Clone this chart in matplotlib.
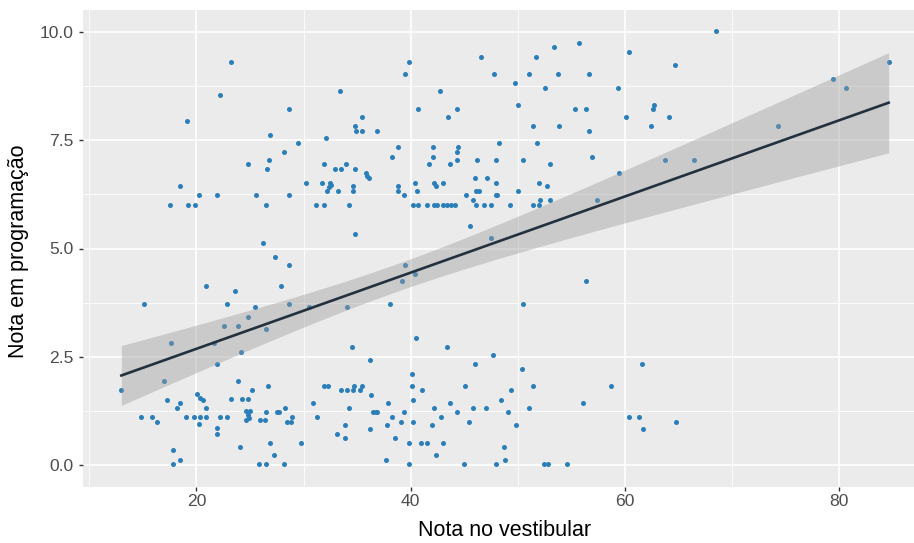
import numpy as np
import matplotlib
matplotlib.use("Agg")
import matplotlib.pyplot as plt
from matplotlib.ticker import FixedLocator

# ---- data ----
vestibular = [
    # upper left
    23.2, 22.2, 33.4, 19.1, 28.6, 35.5, 34.8, 34.9, 35.5, 26.9, 32.1, 29.5, 28.2, 26.8, 24.8, 31.9, 26.6, 32.9, 33.5, 34.0, 34.8,
    18.5, 30.2, 31.7, 32.5, 32.6, 32.4, 32.2, 33.2, 34.6, 34.6,
    20.2, 21.9, 25.6, 28.6,
    17.5, 19.2, 19.9, 26.5, 31.2, 31.9, 34.2,
    34.8, 26.2,
    # upper middle
    36.9, 39.8, 39.5, 42.7, 40.7, 44.3, 43.5, 46.6, 47.8, 49.7, 50.0, 51.0, 51.7, 53.4, 55.7, 53.7, 52.5, 56.6, 60.4, 59.3, 55.3, 56.4, 51.4, 53.8, 56.6, 60.1,
    38.8, 38.3, 42.1, 42.1, 41.7, 44.4, 44.3, 44.3, 43.7, 48.2, 51.8, 46.2, 48.0, 50.5, 53.0, 56.9,
    35.8, 35.9, 36.1,
    38.8, 38.8, 39.4, 40.4, 40.6, 42.2, 42.4, 43.0,
    40.2, 40.7, 41.5, 42.2, 42.5, 43.0, 43.4, 43.8, 44.1, 46.1, 46.8, 47.5, 49.3, 51.4, 52.0,
    45.2, 45.8, 46.0, 47.1, 48.0, 46.1, 46.4, 48.0, 48.1, 50.0, 52.0, 52.7, 52.1, 53.0,
    45.5, 47.5, 57.4, 59.4,
    # upper right
    68.5, 64.7, 62.7, 62.6, 64.1, 62.4, 63.7, 66.4, 74.3, 79.4, 80.6, 84.6,
    # lower left
    27.3, 28.6, 20.9, 23.6, 27.9, 15.1, 22.9, 25.5, 28.6, 30.5, 34.1, 24.8, 22.6, 23.9, 26.5, 17.6, 21.6, 24.2, 21.9, 34.5,
    17.0, 13.0, 23.9, 26.7, 25.2, 17.3, 18.5, 18.2, 20.1, 20.3, 20.6, 20.9, 23.2, 24.3, 24.8,
    14.8, 15.9, 16.3, 19.0, 19.8, 20.3, 20.9, 20.2, 22.2, 22.9, 21.9, 21.9,
    24.6, 25.0, 24.8, 24.9, 24.6, 25.9, 26.4,
    26.5, 27.5, 27.7, 28.3, 28.5, 28.8, 28.9, 30.9, 31.3,
    31.9, 32.3, 33.5, 34.1, 34.6, 34.7, 35.3, 35.5,
    34.2, 33.1, 33.9, 33.9,
    26.9, 29.8, 24.1, 17.8, 18.5, 17.8, 27.2, 25.8, 26.5, 28.2,
    # lower middle
    39.5, 39.2, 40.4, 38.1, 50.5, 56.4, 40.5, 43.4, 36.2, 47.7, 46.0, 50.4, 40.1,
    36.3, 40.1, 41.1, 40.2, 37.9, 45.1, 49.4, 51.4, 48.4, 43.7, 42.2, 45.8, 47.0, 51.0, 56.1, 58.7,
    36.5, 36.8, 36.9, 39.4, 38.3, 39.1, 40.2, 37.8, 42.8, 42.0, 44.3, 45.4, 49.1, 49.8, 36.2, 38.5, 39.8, 41.0, 41.5, 43.0,
    42.4, 48.7, 48.8, 37.7, 39.8, 45.0, 48.0, 52.4, 52.8, 54.6, 60.4,
    # lower right
    61.3, 61.6, 61.7, 64.8,
]
programacao = [
    9.31, 8.53, 8.64, 7.93, 8.21, 8.04, 7.83, 7.72, 7.72, 7.61, 7.54, 7.44, 7.22, 7.04, 6.94, 6.94, 6.83, 6.83, 6.83, 6.94, 6.83,
    6.44, 6.51, 6.51, 6.52, 6.47, 6.41, 6.33, 6.33, 6.44, 6.33,
    6.23, 6.23, 6.23, 6.23,
    6.01, 6.01, 6.01, 6.01, 6.01, 6.01, 6.01,
    5.34, 5.13,
    7.72, 9.31, 9.03, 8.64, 8.21, 8.21, 8.04, 9.42, 9.03, 8.82, 8.32, 9.03, 9.42, 9.64, 9.75, 9.03, 8.71, 9.03, 9.53, 8.71, 8.21, 8.21, 7.83, 7.83, 7.72, 8.04,
    7.33, 7.11, 7.33, 7.11, 6.94, 7.33, 7.22, 7.04, 6.94, 7.44, 7.44, 7.04, 7.04, 7.04, 6.94, 7.11,
    6.74, 6.68, 6.62,
    6.44, 6.33, 6.23, 6.51, 6.33, 6.51, 6.44, 6.51,
    6.01, 6.01, 6.01, 6.01, 6.01, 6.01, 6.01, 6.01, 6.01, 6.01, 6.01, 6.01, 6.01, 6.01, 6.01,
    6.24, 6.12, 6.62, 6.62, 6.51, 6.33, 6.33, 6.23, 6.23, 6.33, 6.51, 6.44, 6.12, 6.12,
    5.52, 5.24, 6.12, 6.73,
    10.02, 9.24, 8.32, 8.21, 8.04, 7.83, 7.04, 7.04, 7.83, 8.92, 8.71, 9.31,
    4.81, 4.63, 4.14, 4.03, 4.14, 3.71, 3.71, 3.64, 3.71, 3.64, 3.64, 3.43, 3.21, 3.21, 3.15, 2.83, 2.82, 2.61, 2.33, 2.72,
    1.94, 1.73, 1.94, 1.83, 1.73, 1.51, 1.44, 1.33, 1.64, 1.56, 1.50, 1.33, 1.52, 1.52, 1.52,
    1.12, 1.12, 1.01, 1.12, 1.12, 1.12, 1.12, 0.95, 1.12, 1.12, 0.85, 0.72,
    1.25, 1.25, 1.15, 1.08, 1.04, 1.04, 1.04,
    1.22, 1.22, 1.22, 1.33, 1.01, 1.01, 1.12, 1.44, 1.12,
    1.83, 1.83, 1.73, 1.73, 1.73, 1.83, 1.73, 1.83,
    1.33, 0.73, 0.94, 0.62,
    0.52, 0.52, 0.42, 0.35, 0.13, 0.02, 0.24, 0.02, 0.02, 0.02,
    4.63, 4.24, 4.42, 3.71, 3.71, 4.24, 2.93, 2.72, 2.43, 2.54, 2.33, 2.22, 2.11,
    1.62, 1.83, 1.73, 1.51, 1.44, 1.83, 1.73, 1.83, 1.51, 1.44, 1.33, 1.33, 1.33, 1.33, 1.44, 1.83,
    1.22, 1.22, 1.22, 1.22, 1.12, 1.01, 1.01, 0.94, 1.12, 0.94, 1.22, 1.01, 1.22, 0.94, 0.83, 0.62, 0.52, 0.52, 0.52, 0.52,
    0.24, 0.42, 0.13, 0.13, 0.02, 0.02, 0.02, 0.02, 0.02, 0.02, 1.12,
    1.12, 2.33, 0.83, 1.01,
]

x_ticks = [20, 40, 60, 80]
y_ticks = [0.0, 2.5, 5.0, 7.5, 10.0]
y_tick_labels = ["0.0", "2.5", "5.0", "7.5", "10.0"]
x_title = "Nota no vestibular"
y_title = "Nota em programação"

x = np.array(vestibular, dtype=float)
y = np.array(programacao, dtype=float)

# linear model + 95% confidence band (like geom_smooth(method = "lm"))
n = len(x)
slope, intercept = np.polyfit(x, y, 1)
resid = y - (intercept + slope * x)
s = np.sqrt(np.sum(resid ** 2) / (n - 2))
xbar = x.mean()
sxx = np.sum((x - xbar) ** 2)
xs = np.linspace(x.min(), x.max(), 80)
fit = intercept + slope * xs
se = s * np.sqrt(1.0 / n + (xs - xbar) ** 2 / sxx)
tq = 1.968
lo, hi = fit - tq * se, fit + tq * se

plt.rcParams['font.family'] = ['Liberation Sans', 'DejaVu Sans']

W, H = 914, 543
fig = plt.figure(figsize=(W / 100, H / 100), dpi=100)
# panel extends a little past the right edge of the (cropped) picture
left, right, top, bottom = 83, 927, 10, 487
ax = fig.add_axes([left / W, 1 - bottom / H, (right - left) / W, (bottom - top) / H])

ax.set_facecolor("#EBEBEB")
for sp in ax.spines.values():
    sp.set_visible(False)

# limits: ggplot 5% expansion
xr = x.max() - x.min()
ax.set_xlim(x.min() - 0.05 * xr, x.max() + 0.05 * xr)
ax.set_ylim(-0.5, 10.5)

ax.xaxis.set_major_locator(FixedLocator(x_ticks))
ax.xaxis.set_minor_locator(FixedLocator([10, 30, 50, 70, 90]))
ax.yaxis.set_major_locator(FixedLocator(y_ticks))
ax.yaxis.set_minor_locator(FixedLocator([1.25, 3.75, 6.25, 8.75]))
ax.set_yticklabels(y_tick_labels)
ax.grid(which="major", color="white", linewidth=1.2)
ax.grid(which="minor", color="white", linewidth=0.6)
ax.set_axisbelow(True)
ax.tick_params(which="major", length=3.2, width=1.0, color="#333333",
               labelcolor="#4D4D4D", labelsize=12.6)
ax.tick_params(axis="y", which="major", pad=3.5)
ax.tick_params(axis="x", which="major", pad=2.0)
ax.tick_params(which="minor", length=0)

ax.scatter(x, y, s=13, color="#2B7FB9", linewidths=0, zorder=2)
ax.fill_between(xs, lo, hi, color="#999999", alpha=0.4, linewidth=0, zorder=3)
ax.plot(xs, fit, color="#23313F", linewidth=1.9, zorder=4)

fig.text((left + right) / 2 / W, 1 - 530 / H, x_title, fontsize=15.5,
         color="black", ha="center", va="center")
fig.text(19 / W, 1 - ((top + bottom) / 2 + 3) / H, y_title, fontsize=15.5,
         color="black", ha="center", va="center", rotation=90)

fig.savefig("out.png", dpi=100)
